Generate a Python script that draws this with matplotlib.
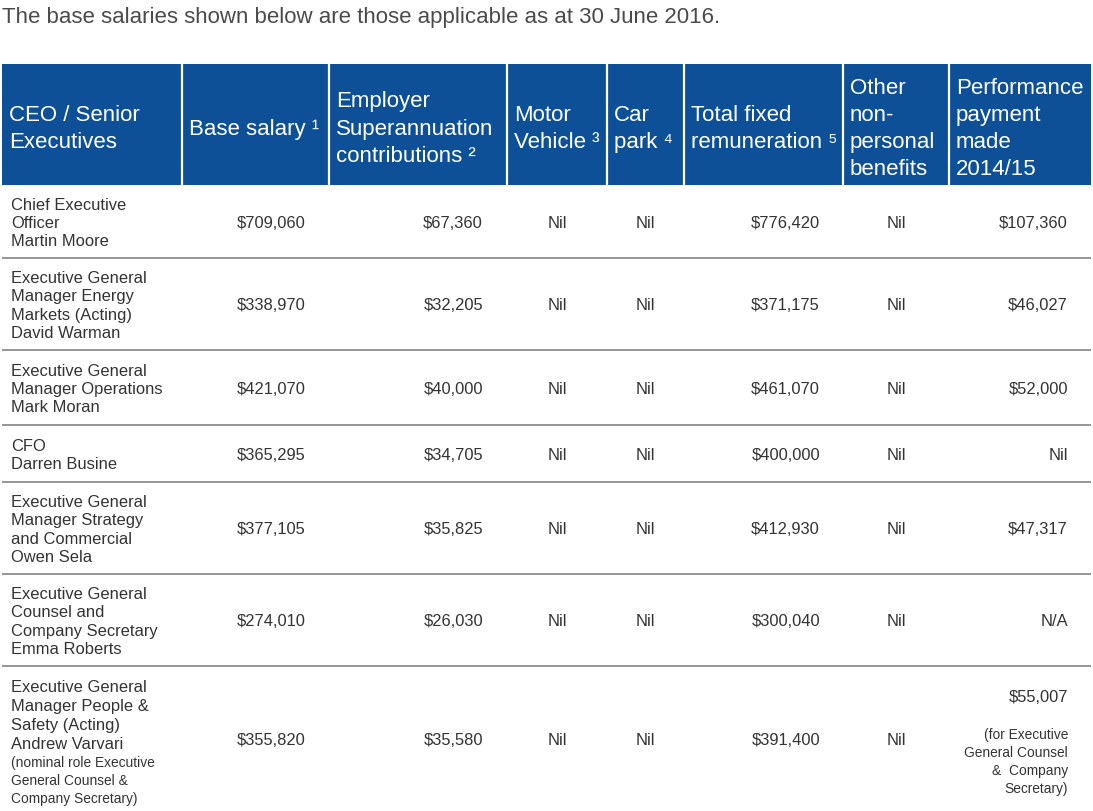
import matplotlib.pyplot as plt
from matplotlib.patches import Rectangle

plt.rcParams['font.family'] = ['Liberation Sans', 'DejaVu Sans']

title = "The base salaries shown below are those applicable as at 30 June 2016."

headers = [
    "CEO / Senior\nExecutives",
    "Base salary \u00b9",
    "Employer\nSuperannuation\ncontributions \u00b2",
    "Motor\nVehicle \u00b3",
    "Car\npark \u2074",
    "Total fixed\nremuneration \u2075",
    "Other\nnon-\npersonal\nbenefits",
    "Performance\npayment\nmade\n2014/15",
]

executives = [
    "Chief Executive\nOfficer\nMartin Moore",
    "Executive General\nManager Energy\nMarkets (Acting)\nDavid Warman",
    "Executive General\nManager Operations\nMark Moran",
    "CFO\nDarren Busine",
    "Executive General\nManager Strategy\nand Commercial\nOwen Sela",
    "Executive General\nCounsel and\nCompany Secretary\nEmma Roberts",
    "Executive General\nManager People &\nSafety (Acting)\nAndrew Varvari",
]
exec_note = "(nominal role Executive\nGeneral Counsel &\nCompany Secretary)"

base_salary = ["$709,060", "$338,970", "$421,070", "$365,295", "$377,105", "$274,010", "$355,820"]
super_contrib = ["$67,360", "$32,205", "$40,000", "$34,705", "$35,825", "$26,030", "$35,580"]
motor_vehicle = ["Nil"] * 7
car_park = ["Nil"] * 7
total_fixed = ["$776,420", "$371,175", "$461,070", "$400,000", "$412,930", "$300,040", "$391,400"]
other_benefits = ["Nil"] * 7
performance = ["$107,360", "$46,027", "$52,000", "Nil", "$47,317", "N/A", "$55,007"]
performance_note = "(for Executive\nGeneral Counsel\n&  Company\nSecretary)"

# layout in pixel coordinates
W, H = 1093, 811
col_edges = [2, 182, 329, 507, 607, 684, 843, 949, 1091]
row_edges = [185, 258, 350, 425, 482, 574, 666, 811]
header_top = 64
blue = "#0d5097"
text_col = "#333333"

fig = plt.figure(figsize=(W / 100, H / 100), dpi=100)
ax = fig.add_axes([0, 0, 1, 1])
ax.set_xlim(0, W)
ax.set_ylim(H, 0)
ax.axis("off")

ax.text(2, 18, title, fontsize=16, color="#4a4a4a", va="center", ha="left")

# header band
ax.add_patch(Rectangle((col_edges[0], header_top), col_edges[-1] - col_edges[0],
                       row_edges[0] - header_top, facecolor=blue, edgecolor="none"))
ax.vlines(col_edges[1:-1], header_top, row_edges[0], color="white", lw=1.6)
header_mid = 129
for left, label in zip(col_edges[:-1], headers):
    ax.text(left + 7, header_mid, label, color="white", fontsize=16,
            ha="left", va="center", linespacing=1.38)

# row separators
ax.hlines(row_edges[1:-1], col_edges[0], col_edges[-1], color="#8c8c8c", lw=1.3)

body_fs = 11.9
note_fs = 9.9
right_cols = {1: (base_salary, 306), 2: (super_contrib, 483),
              5: (total_fixed, 820)}
center_cols = {3: (motor_vehicle, 557), 4: (car_park, 645), 6: (other_benefits, 896)}

n = len(executives)
for i in range(n):
    top, bot = row_edges[i], row_edges[i + 1]
    mid = (top + bot) / 2 + 2
    if i == n - 1:
        ax.text(11, 716, executives[i], fontsize=body_fs, color=text_col,
                ha="left", va="center", linespacing=1.32)
        ax.text(11, 781, exec_note, fontsize=note_fs, color=text_col,
                ha="left", va="center", linespacing=1.4)
    else:
        ax.text(11, mid, executives[i], fontsize=body_fs, color=text_col,
                ha="left", va="center", linespacing=1.28)
    for values, x in right_cols.values():
        ax.text(x, mid, values[i], fontsize=body_fs, color=text_col, ha="right", va="center")
    for values, x in center_cols.values():
        ax.text(x, mid, values[i], fontsize=body_fs, color=text_col, ha="center", va="center")
    if i == n - 1:
        ax.text(1068, 698, performance[i], fontsize=body_fs, color=text_col,
                ha="right", va="center")
        ax.text(1068, 762, performance_note, fontsize=note_fs, color=text_col,
                ha="right", va="center", multialignment="right", linespacing=1.35)
    else:
        ax.text(1068, mid, performance[i], fontsize=body_fs, color=text_col,
                ha="right", va="center")

fig.savefig("out.png", dpi=100)
